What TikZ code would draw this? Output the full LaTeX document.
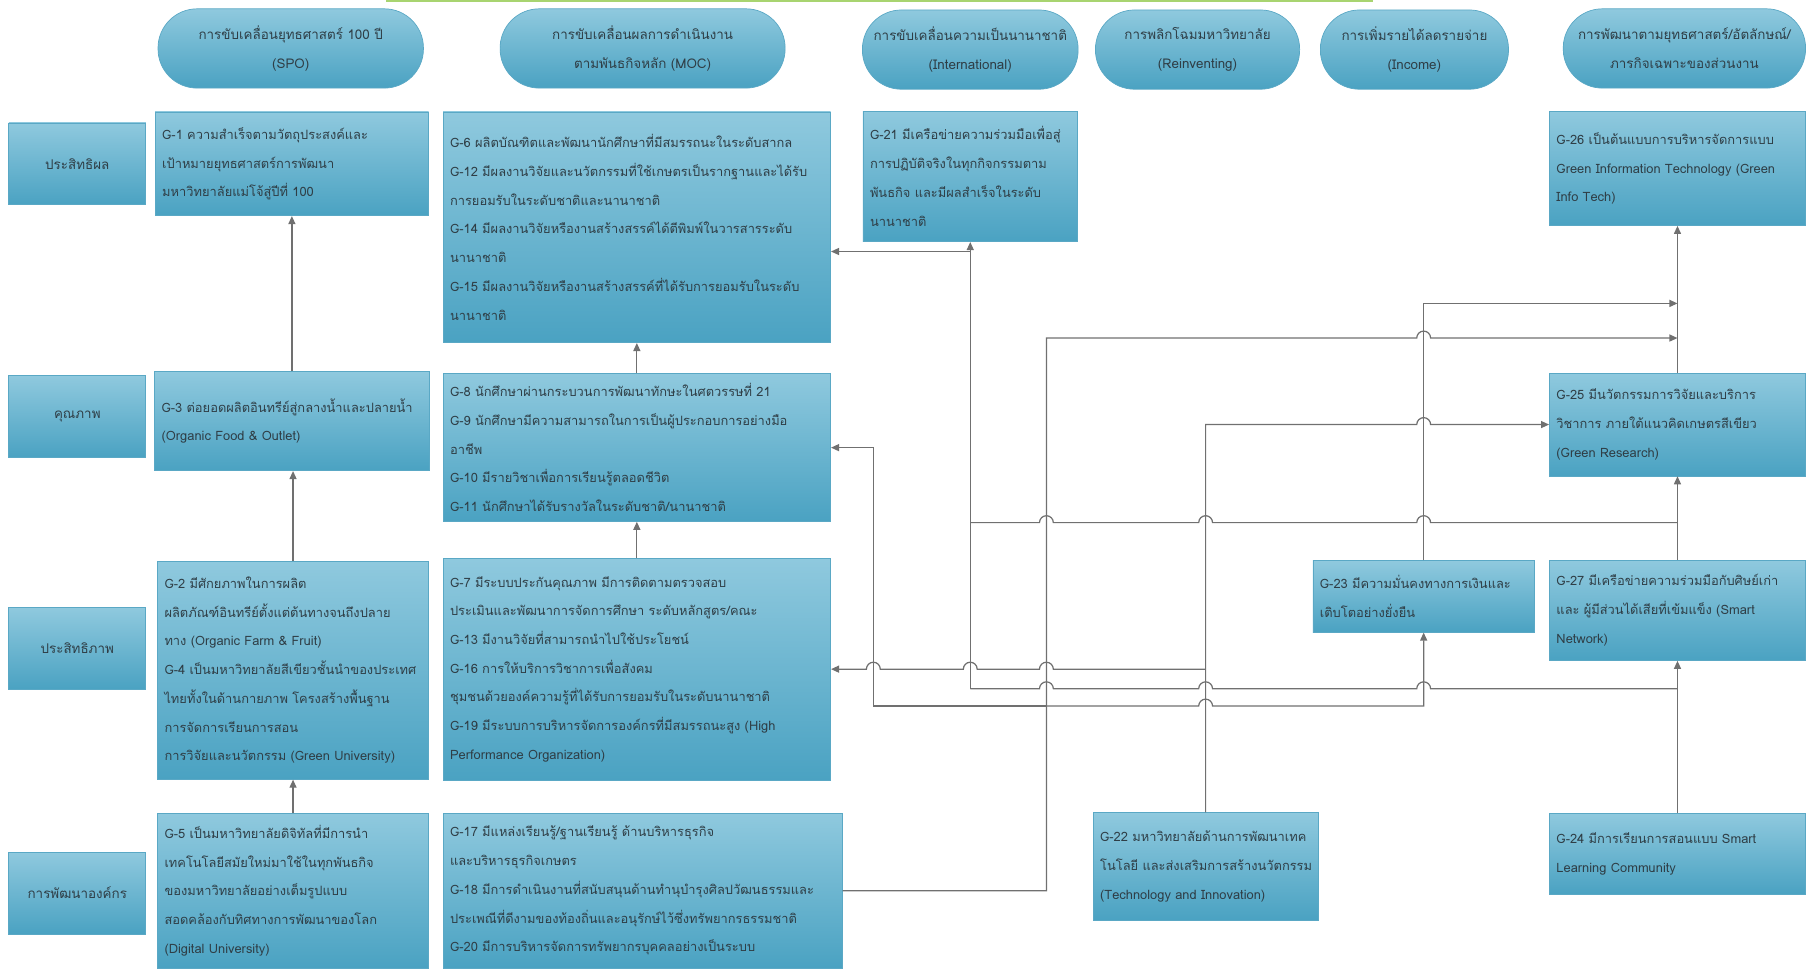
\documentclass[tikz,border=0pt]{standalone}
\usepackage{fontspec}
\newfontfamily\thaifont[Script=Thai]{Loma}
\usetikzlibrary{arrows.meta}

\definecolor{boxtop}{HTML}{8FC9DE}
\definecolor{boxbot}{HTML}{4AA2C2}
\definecolor{boxline}{HTML}{5AA8C5}
\definecolor{txt}{HTML}{2F3E46}
\definecolor{conn}{HTML}{707070}
\definecolor{topline}{HTML}{A8D470}

\tikzset{
  gbox/.style={rectangle, draw=boxline, top color=boxtop, bottom color=boxbot,
    text=txt, font=\thaifont\fontsize{7.3}{16.3}\selectfont, align=left,
    inner xsep=0.14cm, inner ysep=0pt},
  gsize/.style 2 args={text width=#1*0.023cm-0.28cm, minimum height=#2*0.023cm},
  rowbox/.style={gbox, align=center, text width=2.45cm, minimum height=1.63cm,
    font=\thaifont\fontsize{7.6}{16.3}\selectfont},
  hdr/.style={gbox, align=center, rounded corners=0.78cm, minimum height=1.58cm,
    font=\thaifont\fontsize{7.6}{16.3}\selectfont},
  line/.style={draw=conn, line width=0.7pt},
  arr/.style={line, -{Triangle[length=0.16cm,width=0.14cm]}},
}
% hops over crossing lines (6px radius)
\newcommand\hopR[2]{-- (#1-6,#2) arc[start angle=180,end angle=0,radius=0.138cm]}
\newcommand\hopL[2]{-- (#1+6,#2) arc[start angle=0,end angle=180,radius=0.138cm]}

\begin{document}
\begin{tikzpicture}[x=0.023cm,y=-0.023cm]
\useasboundingbox (0,0) rectangle (1568,842);
\draw[topline, line width=1.5pt] (335,0.8) -- (1190,0.8);

% headers
\node[hdr, minimum width=5.29cm] (h1) at (252,42) {การขับเคลื่อนยุทธศาสตร์ 100 ปี\\(SPO)};
\node[hdr, minimum width=5.68cm] (h2) at (557,42) {การขับเคลื่อนผลการดำเนินงาน\\ตามพันธกิจหลัก (MOC)};
\node[hdr, minimum width=4.30cm] (h3) at (841,43) {การขับเคลื่อนความเป็นนานาชาติ\\(International)};
\node[hdr, minimum width=4.07cm] (h4) at (1038,43) {การพลิกโฉมมหาวิทยาลัย\\(Reinventing)};
\node[hdr, minimum width=3.75cm] (h5) at (1226,43) {การเพิ่มรายได้ลดรายจ่าย\\(Income)};
\node[hdr, minimum width=4.83cm] (h6) at (1460,42) {การพัฒนาตามยุทธศาสตร์/อัตลักษณ์/\\ภารกิจเฉพาะของส่วนงาน};

% rows
\node[rowbox] (r1) at (67,142) {ประสิทธิผล};
\node[rowbox] (r2) at (67,361) {คุณภาพ};
\node[rowbox] (r3) at (67,562) {ประสิทธิภาพ};
\node[rowbox] (r4) at (67,774) {การพัฒนาองค์กร};

% goals
\node[gbox, gsize={237}{90}] (g1) at (253,142) {G-1 ความสำเร็จตามวัตถุประสงค์และ\\เป้าหมายยุทธศาสตร์การพัฒนา\\มหาวิทยาลัยแม่โจ้สู่ปีที่ 100};
\node[gbox, gsize={238}{86}] (g3) at (253,365) {G-3 ต่อยอดผลิตอินทรีย์สู่กลางน้ำและปลายน้ำ\\(Organic Food \& Outlet)};
\node[gbox, gsize={235}{189}] (g2) at (254,581) {G-2 มีศักยภาพในการผลิต\\ผลิตภัณฑ์อินทรีย์ตั้งแต่ต้นทางจนถึงปลาย\\ทาง (Organic Farm \& Fruit)\\G-4 เป็นมหาวิทยาลัยสีเขียวชั้นนำของประเทศ\\ไทยทั้งในด้านกายภาพ โครงสร้างพื้นฐาน\\การจัดการเรียนการสอน\\การวิจัยและนวัตกรรม (Green University)};
\node[gbox, gsize={235}{134}] (g5) at (254,772) {G-5 เป็นมหาวิทยาลัยดิจิทัลที่มีการนำ\\เทคโนโลยีสมัยใหม่มาใช้ในทุกพันธกิจ\\ของมหาวิทยาลัยอย่างเต็มรูปแบบ\\สอดคล้องกับทิศทางการพัฒนาของโลก\\(Digital University)};

\node[gbox, gsize={336}{200}] (g6) at (552,197) {G-6 ผลิตบัณฑิตและพัฒนานักศึกษาที่มีสมรรถนะในระดับสากล\\G-12 มีผลงานวิจัยและนวัตกรรมที่ใช้เกษตรเป็นรากฐานและได้รับ\\การยอมรับในระดับชาติและนานาชาติ\\G-14 มีผลงานวิจัยหรืองานสร้างสรรค์ได้ตีพิมพ์ในวารสารระดับ\\นานาชาติ\\G-15 มีผลงานวิจัยหรืองานสร้างสรรค์ที่ได้รับการยอมรับในระดับ\\นานาชาติ};
\node[gbox, gsize={336}{128}] (g8) at (552,388) {G-8 นักศึกษาผ่านกระบวนการพัฒนาทักษะในศตวรรษที่ 21\\G-9 นักศึกษามีความสามารถในการเป็นผู้ประกอบการอย่างมือ\\อาชีพ\\G-10 มีรายวิชาเพื่อการเรียนรู้ตลอดชีวิต\\G-11 นักศึกษาได้รับรางวัลในระดับชาติ/นานาชาติ};
\node[gbox, gsize={336}{192}] (g7) at (552,580) {G-7 มีระบบประกันคุณภาพ มีการติดตามตรวจสอบ\\ประเมินและพัฒนาการจัดการศึกษา ระดับหลักสูตร/คณะ\\G-13 มีงานวิจัยที่สามารถนำไปใช้ประโยชน์\\G-16 การให้บริการวิชาการเพื่อสังคม\\ชุมชนด้วยองค์ความรู้ที่ได้รับการยอมรับในระดับนานาชาติ\\G-19 มีระบบการบริหารจัดการองค์กรที่มีสมรรถนะสูง (High\\Performance Organization)};
\node[gbox, gsize={346}{134}] (g17) at (557,772) {G-17 มีแหล่งเรียนรู้/ฐานเรียนรู้ ด้านบริหารธุรกิจ\\และบริหารธุรกิจเกษตร\\G-18 มีการดำเนินงานที่สนับสนุนด้านทำนุบำรุงศิลปวัฒนธรรมและ\\ประเพณีที่ดีงามของท้องถิ่นและอนุรักษ์ไว้ซึ่งทรัพยากรธรรมชาติ\\G-20 มีการบริหารจัดการทรัพยากรบุคคลอย่างเป็นระบบ};

\node[gbox, gsize={186}{113}] (g21) at (841,153) {G-21 มีเครือข่ายความร่วมมือเพื่อสู่\\การปฏิบัติจริงในทุกกิจกรรมตาม\\พันธกิจ~และมีผลสำเร็จในระดับ\\นานาชาติ};
\node[gbox, gsize={195}{93}] (g22) at (1045,751) {G-22 มหาวิทยาลัยด้านการพัฒนาเทค\\โนโลยี~และส่งเสริมการสร้างนวัตกรรม\\(Technology and Innovation)};
\node[gbox, gsize={192}{62}] (g23) at (1234,517) {G-23 มีความมั่นคงทางการเงินและ\\เติบโตอย่างยั่งยืน};

\node[gbox, gsize={222}{99}] (g26) at (1454,146) {G-26 เป็นต้นแบบการบริหารจัดการแบบ\\Green Information Technology (Green\\Info Tech)};
\node[gbox, gsize={222}{89}] (g25) at (1454,368) {G-25 มีนวัตกรรมการวิจัยและบริการ\\วิชาการ ภายใต้แนวคิดเกษตรสีเขียว\\(Green Research)};
\node[gbox, gsize={222}{87}] (g27) at (1454,529) {G-27 มีเครือข่ายความร่วมมือกับศิษย์เก่า\\และ ผู้มีส่วนได้เสียที่เข้มแข็ง (Smart\\Network)};
\node[gbox, gsize={222}{70}] (g24) at (1454,740) {G-24 มีการเรียนการสอนแบบ Smart\\Learning Community};

% straight links
\draw[arr] (g3.north) -- (g3.north |- g1.south);
\draw[arr] (g2.north) -- (g2.north |- g3.south);
\draw[arr] (g5.north) -- (g5.north |- g2.south);
\draw[arr] (g8.north) -- (g6.south);
\draw[arr] (g7.north) -- (g8.south);
\draw[arr] (g25.north) -- (g26.south);
\draw[arr] (g27.north) -- (g25.south);
\draw[arr] (g24.north) -- (g27.south);

% G-24 bus
\draw[line] (g24.north |- 0,597) \hopL{1234}{597} \hopL{1045}{597} \hopL{907}{597} -- (841,597);
\draw[arr] (841,597) -- (g21.south);
\draw[arr] (841,218) -- (g6.east |- 0,218);
\draw[line] (841,453) \hopR{907}{453} \hopR{1045}{453} \hopR{1234}{453} -- (g25.south |- 0,453);

% G-17 bus
\draw[arr] (g17.east) -- (907,772) -- (907,293) \hopR{1234}{293} -- (g26.south |- 0,293);
\draw[arr] (907,612) \hopR{1045}{612} -- (1234,612) -- (g23.south);
\draw[arr] (907,612) -- (757,612) -- (757,388) -- (g8.east);

% G-22 bus
\draw[arr] (g22.north) -- (1045,368) \hopR{1234}{368} -- (g25.west);
\draw[arr] (1045,580) \hopL{907}{580} \hopL{841}{580} \hopL{757}{580} -- (g7.east);

% G-23 link
\draw[arr] (g23.north) -- (1234,263) -- (g26.south |- 0,263);
\end{tikzpicture}
\end{document}
